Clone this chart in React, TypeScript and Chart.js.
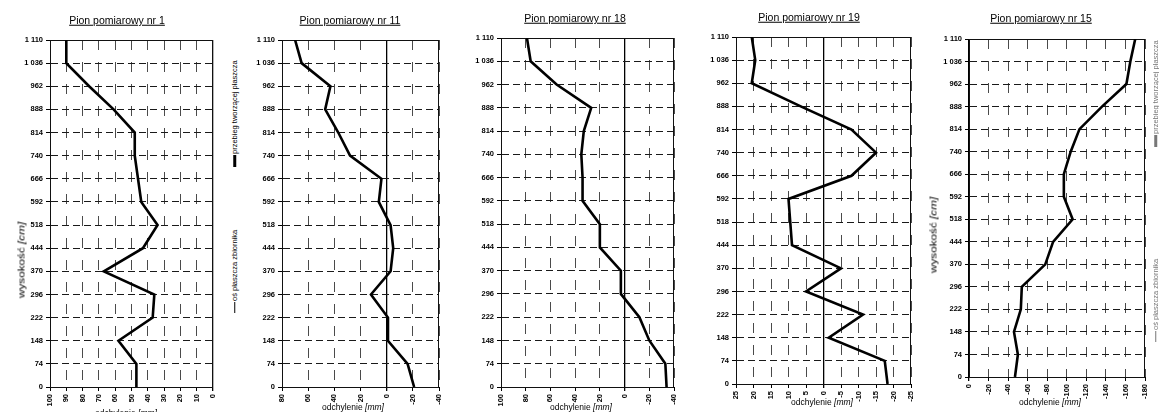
import React, { useEffect, useRef } from "react";
import { Chart, registerables } from "chart.js";

Chart.register(...registerables);

// ---------- data ----------
const HEIGHTS = [0, 74, 148, 222, 296, 370, 444, 518, 592, 666, 740, 814, 888, 962, 1036, 1110];

const NR1_DEV = [47, 47, 58, 37, 36, 67, 43, 34, 44, 46, 48, 48, 61, 76, 90, 90];
const NR11_DEV = [-21, -16, -1, -1, 12, -3, -5, -3, 6, 4, 28, 37, 47, 43, 65, 70];
const NR18_DEV = [-34, -33, -20, -12, 3, 3, 20, 20, 34, 34, 35, 33, 27, 55, 76, 79];
const NR19_DEV = [-18.3, -17.5, -1.5, -11.3, 5, -5, 9, 9.5, 10, -8, -15, -8, 6.5, 20.5, 19.5, 20.5];
const NR15_DEV = [-47, -50, -46, -53, -54, -78, -86, -106, -97, -97, -104, -113, -136, -161, -165, -170];

const NR1_XTICKS = [0, 10, 20, 30, 40, 50, 60, 70, 80, 90, 100];
const NR11_XTICKS = [-40, -20, 0, 20, 40, 60, 80];
const NR18_XTICKS = [-40, -20, 0, 20, 40, 60, 80, 100];
const NR19_XTICKS = [-25, -20, -15, -10, -5, 0, 5, 10, 15, 20, 25];
const NR15_XTICKS = [-180, -160, -140, -120, -100, -80, -60, -40, -20, 0];

const TITLES = [
  "Pion pomiarowy nr 1",
  "Pion pomiarowy nr 11",
  "Pion pomiarowy nr 18",
  "Pion pomiarowy nr 19",
  "Pion pomiarowy nr 15",
];
const X_TITLE_MAIN = "odchylenie";
const X_TITLE_UNIT = "[mm]";
const Y_TITLE_MAIN = "wysokość";
const Y_TITLE_UNIT = "[cm]";
const LEGEND_LABELS = ["przebieg tworzącej płaszcza", "oś płaszcza zbiornika"];

// ---------- layout ----------
const FONT = "'Liberation Sans', Arial, Helvetica, sans-serif";
const H = 412;
const AXIS_W = 40;
const PAD_R = 10;

const PANELS = [
  { L: 50, R: 213, T: 40, B: 387, values: NR1_DEV, ticks: NR1_XTICKS, title: TITLES[0], tx: 117, ty: 20, xtx: 126, xty: 413 },
  { L: 282, R: 439, T: 40, B: 387, values: NR11_DEV, ticks: NR11_XTICKS, title: TITLES[1], tx: 350, ty: 20, xtx: 353, xty: 407 },
  { L: 501, R: 674, T: 38, B: 387, values: NR18_DEV, ticks: NR18_XTICKS, title: TITLES[2], tx: 575, ty: 18, xtx: 581, xty: 407 },
  { L: 736, R: 911, T: 37, B: 384, values: NR19_DEV, ticks: NR19_XTICKS, title: TITLES[3], tx: 809, ty: 17, xtx: 822, xty: 402 },
  { L: 969, R: 1145, T: 39, B: 377, values: NR15_DEV, ticks: NR15_XTICKS, title: TITLES[4], tx: 1041, ty: 18, xtx: 1050, xty: 402 },
];

const fmtHeight = (v: number) =>
  v >= 1000 ? `${Math.floor(v / 1000)} ${String(v % 1000).padStart(3, "0")}` : String(v);

const framePlugin = {
  id: "frame",
  beforeDatasetsDraw(chart: any) {
    const { ctx, chartArea: a } = chart;
    ctx.save();
    ctx.setLineDash([]);
    ctx.strokeStyle = "#111";
    ctx.lineWidth = 1;
    ctx.strokeRect(
      Math.round(a.left) + 0.5,
      Math.round(a.top) + 0.5,
      Math.round(a.right - a.left) - 1,
      Math.round(a.bottom - a.top)
    );
    ctx.restore();
  },
};

function Panel({ p }: { p: any }) {
  const ref = useRef<HTMLCanvasElement | null>(null);
  const w = p.R - p.L + AXIS_W + PAD_R;
  useEffect(() => {
    if (!ref.current) return;
    const tickFont = { family: FONT, size: 7.5, weight: "bold" as const };
    const minX = Math.min(...p.ticks);
    const maxX = Math.max(...p.ticks);
    const chart = new Chart(ref.current, {
      type: "scatter",
      data: {
        datasets: [
          {
            data: HEIGHTS.map((h, i) => ({ x: p.values[i], y: h })),
            showLine: true,
            borderColor: "#000",
            borderWidth: 2.6,
            pointRadius: 0,
            pointHoverRadius: 0,
            fill: false,
          },
        ],
      },
      options: {
        animation: false,
        responsive: false,
        maintainAspectRatio: false,
        events: [],
        layout: { padding: { left: 0, top: p.T, right: PAD_R, bottom: 0 } },
        plugins: { legend: { display: false }, title: { display: false }, tooltip: { enabled: false } },
        scales: {
          x: {
            type: "linear",
            min: minX,
            max: maxX,
            reverse: true,
            afterBuildTicks: (s: any) => {
              s.ticks = p.ticks.map((v: number) => ({ value: v }));
            },
            afterFit: (s: any) => {
              s.height = H - p.B;
            },
            ticks: {
              autoSkip: false,
              minRotation: 90,
              maxRotation: 90,
              padding: 3,
              color: "#000",
              font: tickFont,
            },
            grid: {
              color: (c: any) => (c.tick && c.tick.value === 0 ? "#000" : "#4a4a4a"),
              lineWidth: (c: any) => (c.tick && c.tick.value === 0 ? 1.3 : 1),
              tickLength: 4,
              tickColor: "#000",
            },
            border: {
              display: true,
              color: "#000",
              width: 1,
              dash: (c: any) => (c.tick && c.tick.value === 0 ? [] : [10, 12]),
            },
          },
          y: {
            type: "linear",
            min: 0,
            max: 1110,
            afterBuildTicks: (s: any) => {
              s.ticks = HEIGHTS.map((v) => ({ value: v }));
            },
            afterFit: (s: any) => {
              s.width = AXIS_W;
            },
            ticks: {
              autoSkip: false,
              padding: 3,
              color: "#000",
              font: tickFont,
              callback: (v: any) => fmtHeight(Number(v)),
            },
            grid: { color: "#1a1a1a", lineWidth: 1, tickLength: 4, tickColor: "#000" },
            border: { display: true, color: "#000", width: 1, dash: [7, 4] },
          },
        },
      },
      plugins: [framePlugin],
    } as any);
    return () => chart.destroy();
  }, []);
  return (
    <canvas
      ref={ref}
      width={w}
      height={H}
      style={{ position: "absolute", left: p.L - AXIS_W, top: 0, width: w, height: H }}
    />
  );
}

function Title({ x, y, text }: { x: number; y: number; text: string }) {
  return (
    <div
      style={{
        position: "absolute",
        left: x,
        top: y,
        transform: "translate(-50%, -50%)",
        font: `10.5px ${FONT}`,
        textDecoration: "underline",
        whiteSpace: "nowrap",
        color: "#000",
        lineHeight: 1,
      }}
    >
      {text}
    </div>
  );
}

function XTitle({ x, y }: { x: number; y: number }) {
  return (
    <div
      style={{
        position: "absolute",
        left: x,
        top: y,
        transform: "translate(-50%, -50%)",
        font: `8.5px ${FONT}`,
        whiteSpace: "nowrap",
        color: "#000",
        lineHeight: 1,
      }}
    >
      {X_TITLE_MAIN} <i>{X_TITLE_UNIT}</i>
    </div>
  );
}

function YTitle({ x, y }: { x: number; y: number }) {
  return (
    <div
      style={{
        position: "absolute",
        left: x,
        top: y,
        transform: "translate(-50%, -50%) rotate(-90deg) scaleX(1.3)",
        font: `9px ${FONT}`,
        whiteSpace: "nowrap",
        color: "#000",
        lineHeight: 1,
      }}
    >
      {Y_TITLE_MAIN} <i>{Y_TITLE_UNIT}</i>
    </div>
  );
}

function LegendItem({ x, yBottom, label, thick, color }: any) {
  return (
    <div
      style={{
        position: "absolute",
        left: x,
        top: yBottom,
        transformOrigin: "0 0",
        transform: "rotate(-90deg) translateY(-50%)",
        display: "flex",
        alignItems: "center",
        whiteSpace: "nowrap",
        font: `7.5px ${FONT}`,
        color,
        lineHeight: 1,
      }}
    >
      <span
        style={{ display: "inline-block", width: thick ? 12 : 11, height: thick ? 3 : 1, background: color, marginRight: 1 }}
      />
      <span>{label}</span>
    </div>
  );
}

export default function App() {
  return (
    <div
      style={{
        position: "absolute",
        left: 0,
        top: 0,
        width: 1159,
        height: H,
        overflow: "hidden",
        background: "#fff",
      }}
    >
      {PANELS.map((p, i) => (
        <Panel key={i} p={p} />
      ))}
      {PANELS.map((p, i) => (
        <Title key={"t" + i} x={p.tx} y={p.ty} text={p.title} />
      ))}
      {PANELS.map((p, i) => (
        <XTitle key={"x" + i} x={p.xtx} y={p.xty} />
      ))}
      <YTitle x={22} y={260} />
      <YTitle x={934} y={235} />
      <LegendItem x={235} yBottom={167} label={LEGEND_LABELS[0]} thick color="#000" />
      <LegendItem x={235} yBottom={313} label={LEGEND_LABELS[1]} thick={false} color="#000" />
      <LegendItem x={1156} yBottom={147} label={LEGEND_LABELS[0]} thick color="#777" />
      <LegendItem x={1156} yBottom={342} label={LEGEND_LABELS[1]} thick={false} color="#777" />
    </div>
  );
}
